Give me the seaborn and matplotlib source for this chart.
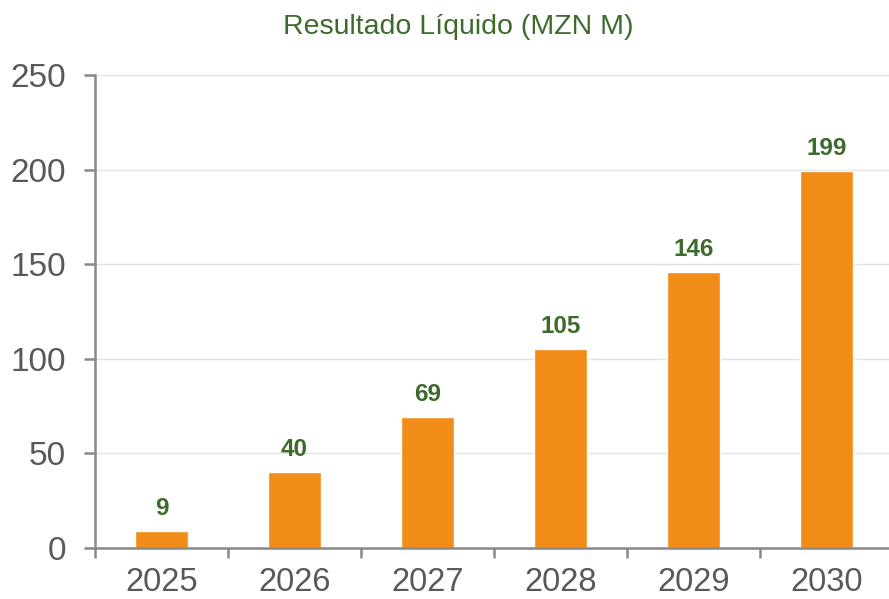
import seaborn as sns
import pandas as pd
import matplotlib.pyplot as plt
from matplotlib.ticker import FixedLocator

years = ['2025', '2026', '2027', '2028', '2029', '2030']
net_income = [9, 40, 69, 105, 146, 199]

df = pd.DataFrame({'year': years, 'value': net_income})

sns.set_style('white')
plt.rcParams['font.family'] = ['Liberation Sans', 'DejaVu Sans']

fig = plt.figure(figsize=(8.89, 5.99), dpi=100)
ax = fig.add_axes([0.107, 0.085, 0.893, 0.79])

sns.barplot(data=df, x='year', y='value', color='#F08C17', width=0.4,
            saturation=1, ax=ax, zorder=3)

for c in ax.containers:
    ax.bar_label(c, labels=[f'{v:.0f}' for v in net_income], padding=8,
                 color='#3F6A2D', fontsize=17.5, fontweight='bold')

ax.set_ylim(0, 250)
ax.set_yticks([0, 50, 100, 150, 200, 250])
ax.set_xlim(-0.5, 5.47)
ax.yaxis.grid(True, color='#E3E3E3', linewidth=1, zorder=0)
ax.xaxis.set_minor_locator(FixedLocator([i - 0.5 for i in range(len(years) + 1)]))
ax.tick_params(axis='x', which='major', bottom=False, pad=10, labelsize=23.5,
               labelcolor='#595959')
ax.tick_params(axis='x', which='minor', bottom=True, length=7, width=1.8,
               color='#888888', direction='out')
ax.tick_params(axis='y', left=True, length=8, width=1.8, color='#888888', direction='out',
               labelsize=24, labelcolor='#595959', pad=13)
ax.set_xlabel('')
ax.set_ylabel('')

for side in ['top', 'right']:
    ax.spines[side].set_visible(False)
for side in ['left', 'bottom']:
    ax.spines[side].set_color('#888888')
    ax.spines[side].set_linewidth(1.8)
    ax.spines[side].set_zorder(4)

fig.text(0.515, 0.955, 'Resultado Líquido (MZN M)', ha='center', va='center',
         color='#3F6A2D', fontsize=20.5)

fig.savefig('out.png', dpi=100)
